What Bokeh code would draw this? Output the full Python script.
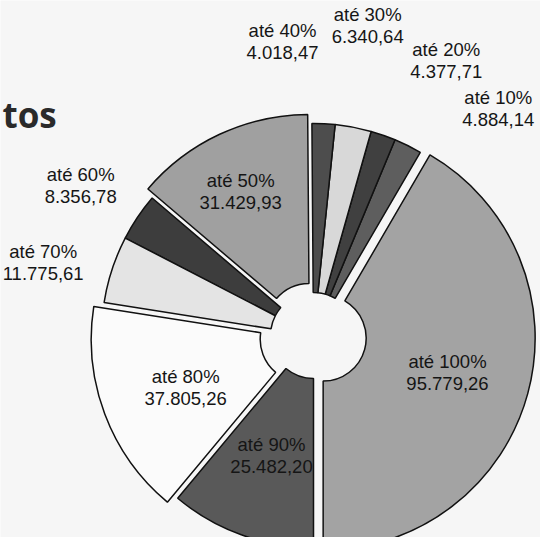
import math
from bokeh.plotting import figure
from bokeh.models import Range1d, ColumnDataSource
from bokeh.embed import file_html
from bokeh.resources import INLINE
from bokeh.core.properties import value

# ---- data ----
categories = ["até 10%", "até 20%", "até 30%", "até 40%", "até 50%",
              "até 60%", "até 70%", "até 80%", "até 90%", "até 100%"]
values = [4884.14, 4377.71, 6340.64, 4018.47, 31429.93,
          8356.78, 11775.61, 37805.26, 25482.20, 95779.26]
title_fragment = "tos"

# ---- style / layout ----
colors = ["#5e5e5e", "#404040", "#d8d8d8", "#4d4d4d", "#a0a0a0",
          "#3d3d3d", "#e4e4e4", "#fbfbfb", "#595959", "#a3a3a3"]
explode = [0, 0, 0, 0, 10, 0, 0, 11, 0, 10]
# label placement: compass angle (deg, clockwise from north) and radius (px)
label_angle = [39.1, 25.8, 9.9, 354.0, 333.1, 302.8, 285.1, 247.9, 199.3, 105.4]
label_radius = [293, 305, 315, 296, 161, 277, 280, 138, 127, 139]
draw_order = [9, 0, 1, 2, 3, 4, 5, 6, 7, 8]  # counter-clockwise from the bottom

W, H = 540, 537
CX, CY = 321, 553 - 343
R_IN, R_OUT = 43, 212


def fmt_br(v):
    s = f"{v:,.2f}"
    return s.replace(",", "#").replace(".", ",").replace("#", ".")


total = sum(values)
xs, ys, starts, ends, cols = [], [], [], [], []
cursor = -math.pi / 2
for i in draw_order:
    span = 2 * math.pi * values[i] / total
    mid = cursor + span / 2
    xs.append(CX + explode[i] * math.cos(mid))
    ys.append(CY + explode[i] * math.sin(mid))
    starts.append(cursor)
    ends.append(cursor + span)
    cols.append(colors[i])
    cursor += span

src = ColumnDataSource(dict(x=xs, y=ys, start=starts, end=ends, color=cols))

p = figure(width=W, height=H, x_range=Range1d(8, 8 + W), y_range=Range1d(8, 8 + H),
           output_backend="svg", toolbar_location=None, min_border=0)
p.axis.visible = False
p.grid.visible = False
p.outline_line_color = None
p.background_fill_color = "#f6f6f6"
p.border_fill_color = "#f6f6f6"

p.annular_wedge(x="x", y="y", inner_radius=R_IN, outer_radius=R_OUT,
                start_angle="start", end_angle="end", fill_color="color",
                line_color="#111111", line_width=1.5, source=src)

lx, ly1, ly2, t1, t2 = [], [], [], [], []
for i, cat in enumerate(categories):
    th = math.radians(label_angle[i])
    x = CX + label_radius[i] * math.sin(th)
    y = CY + label_radius[i] * math.cos(th)
    lx.append(x)
    ly1.append(y + 11)
    ly2.append(y - 11)
    t1.append(cat)
    t2.append(fmt_br(values[i]))

for yy, tt in ((ly1, t1), (ly2, t2)):
    p.text(x=lx, y=yy, text=tt, text_font=value("Liberation Sans"),
           text_font_size="18.5px", text_align="center", text_baseline="middle",
           text_color="#151515")

p.text(x=[10], y=[553 - 122], text=[title_fragment], text_font=value("Open Sans"),
       text_font_style="bold", text_font_size="35px", text_align="left",
       text_baseline="alphabetic", text_color="#2a2a2a")

open("out.html", "w").write(file_html(p, INLINE))
